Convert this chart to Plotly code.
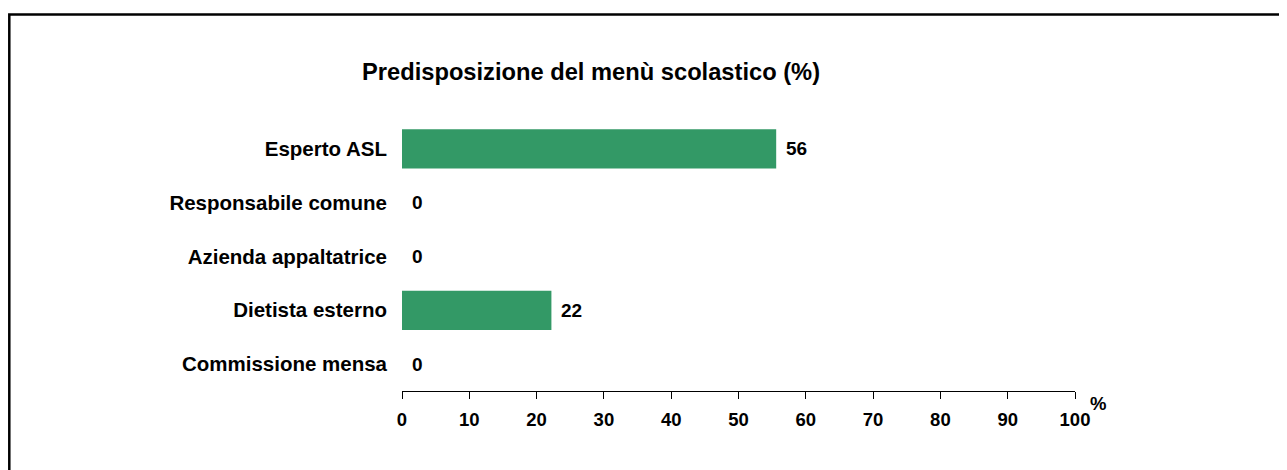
import plotly.graph_objects as go

categories = ["Esperto ASL", "Responsabile comune", "Azienda appaltatrice",
              "Dietista esterno", "Commissione mensa"]
values = [55.6, 0, 0, 22.2, 0]
value_labels = ["56", "0", "0", "22", "0"]
x_ticks = [0, 10, 20, 30, 40, 50, 60, 70, 80, 90, 100]
title_text = "Predisposizione del menù scolastico (%)"

FONT = "Liberation Sans, Arial, sans-serif"
OFF = 8  # page body margin
W, H = 1287 - OFF, 470 - OFF
L, R, T, B = 402 - OFF, 1287 - 1075, 122 - OFF, 470 - 391
pw, ph = W - L - R, H - T - B


def px_x(px):
    # page pixel -> paper
    return (px - OFF - L) / pw


def px_y(py):
    return (H - B - (py - OFF)) / ph


fig = go.Figure()
fig.add_trace(go.Bar(
    y=categories, x=values, orientation="h",
    marker=dict(color="#339966", line=dict(width=0)),
    hoverinfo="skip",
))

annotations = []
for c, v, t in zip(categories, values, value_labels):
    annotations.append(dict(
        x=v, y=c, xref="x", yref="y", text=t, showarrow=False,
        xanchor="left", yanchor="middle", xshift=8,
        font=dict(family=FONT, size=19, color="black", weight="bold"),
    ))

annotations.append(dict(
    x=px_x(591), y=px_y(72), xref="paper", yref="paper", text=title_text,
    showarrow=False, xanchor="center", yanchor="middle",
    font=dict(family=FONT, size=23.7, color="black", weight="bold"),
))
annotations.append(dict(
    x=px_x(1098), y=px_y(403), xref="paper", yref="paper", text="%",
    showarrow=False, xanchor="center", yanchor="middle",
    font=dict(family=FONT, size=18.5, color="black", weight="bold"),
))

fig.update_layout(
    width=W, height=H,
    margin=dict(l=L, r=R, t=T, b=B, pad=0),
    paper_bgcolor="white", plot_bgcolor="white",
    showlegend=False,
    bargap=0.27,
    annotations=annotations,
    shapes=[dict(
        type="rect", xref="paper", yref="paper",
        x0=px_x(9.3), x1=px_x(1320), y0=px_y(14.5), y1=px_y(520),
        line=dict(color="black", width=2.5), fillcolor="rgba(0,0,0,0)",
        layer="above",
    )],
    xaxis=dict(
        range=[0, 100], tickvals=x_ticks, ticktext=[str(v) for v in x_ticks],
        showgrid=False, zeroline=False,
        showline=True, linecolor="black", linewidth=1,
        ticks="outside", ticklen=7, tickcolor="black", tickwidth=1,
        ticklabelstandoff=5,
        tickfont=dict(family=FONT, size=18.5, color="black", weight="bold"),
        fixedrange=True,
    ),
    yaxis=dict(
        categoryorder="array", categoryarray=categories[::-1],
        range=[-0.5, 4.5],
        showgrid=False, zeroline=False, showline=False, ticks="",
        ticklabelstandoff=14,
        tickfont=dict(family=FONT, size=20.5, color="black", weight="bold"),
        fixedrange=True,
    ),
)

fig.write_html("out.html")
